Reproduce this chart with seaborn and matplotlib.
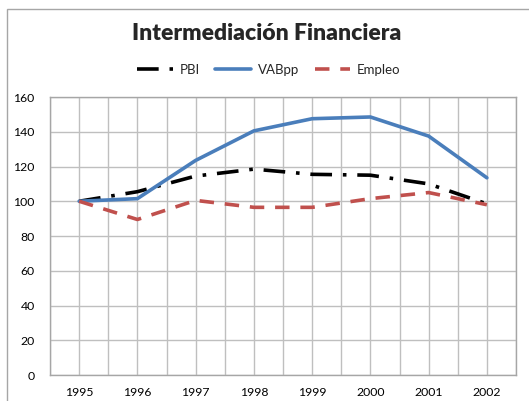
import matplotlib
matplotlib.use("Agg")
import matplotlib.pyplot as plt
import matplotlib.patches as mpatches
from matplotlib.lines import Line2D
import seaborn as sns
import pandas as pd
import numpy as np

years = ["1995", "1996", "1997", "1998", "1999", "2000", "2001", "2002"]
pbi = [100, 105.5, 114.5, 118.5, 115.5, 115, 110, 98.5]
vabpp = [100, 101.5, 123.5, 140.5, 147.5, 148.5, 137.5, 113.5]
empleo = [100, 89.5, 100.5, 96.5, 96.5, 101.5, 105, 98]
yticks = [0, 20, 40, 60, 80, 100, 120, 140, 160]

sns.set_theme(style="white")
plt.rcParams["font.family"] = ["Lato", "DejaVu Sans"]

fig = plt.figure(figsize=(5.29, 4.01), dpi=100)
ax = fig.add_axes([50 / 529, 1 - 375 / 401, 466 / 529, 278 / 401])

# chart area frame
fig.patches.append(mpatches.Rectangle((7 / 529, -0.1), 1.2, 1 - 9 / 401 + 0.1,
                                      transform=fig.transFigure, fill=False,
                                      edgecolor="#A6A6A6", linewidth=1.0))

pos = np.arange(len(years))
df = pd.DataFrame({"pos": pos, "PBI": pbi, "VABpp": vabpp, "Empleo": empleo})

styles = {
    "PBI": dict(color="black", dashes=(6, 3, 1, 3)),
    "VABpp": dict(color="#4A7EBB", dashes=None),
    "Empleo": dict(color="#C0504D", dashes=(4, 3)),
}
handles = []
for name in ["PBI", "VABpp", "Empleo"]:
    st = styles[name]
    sns.lineplot(data=df, x="pos", y=name, ax=ax, color=st["color"],
                 linewidth=2.6, zorder=3)
    line = ax.lines[-1]
    if st["dashes"] is not None:
        line.set_dashes(st["dashes"])
    handles.append(Line2D([], [], color=st["color"], linewidth=2.6,
                          dashes=st["dashes"] if st["dashes"] else (None, None),
                          label=name))

ax.set_xlim(-0.5, len(years) - 0.5)
ax.set_ylim(0, 160)
ax.set_yticks(yticks)
ax.set_xticks(pos)
ax.set_xticklabels(years)
ax.set_xticks(np.arange(-0.5, len(years), 1.0), minor=True)
ax.set_xlabel("")
ax.set_ylabel("")

grid_c = "#BFBFBF"
ax.grid(True, which="major", axis="both", color=grid_c, linewidth=1.0, zorder=0)
ax.grid(True, which="minor", axis="x", color=grid_c, linewidth=1.0, zorder=0)
ax.set_axisbelow(True)
for s in ax.spines.values():
    s.set_color("#A6A6A6")
    s.set_linewidth(1.0)
ax.tick_params(axis="both", which="both", length=0, labelsize=8.8, colors="#000000")
ax.tick_params(axis="y", pad=11)
ax.tick_params(axis="x", pad=9)

fig.text(0.504, 0.916, "Intermediación Financiera", ha="center", va="center",
         fontsize=16.5, fontweight="heavy")

fig.legend(handles=handles, loc="center", bbox_to_anchor=(0.508, 0.826),
           ncol=3, frameon=False, fontsize=9.5, handlelength=2.7,
           handletextpad=0.5, columnspacing=1.2)

fig.savefig("out.png", dpi=100)
